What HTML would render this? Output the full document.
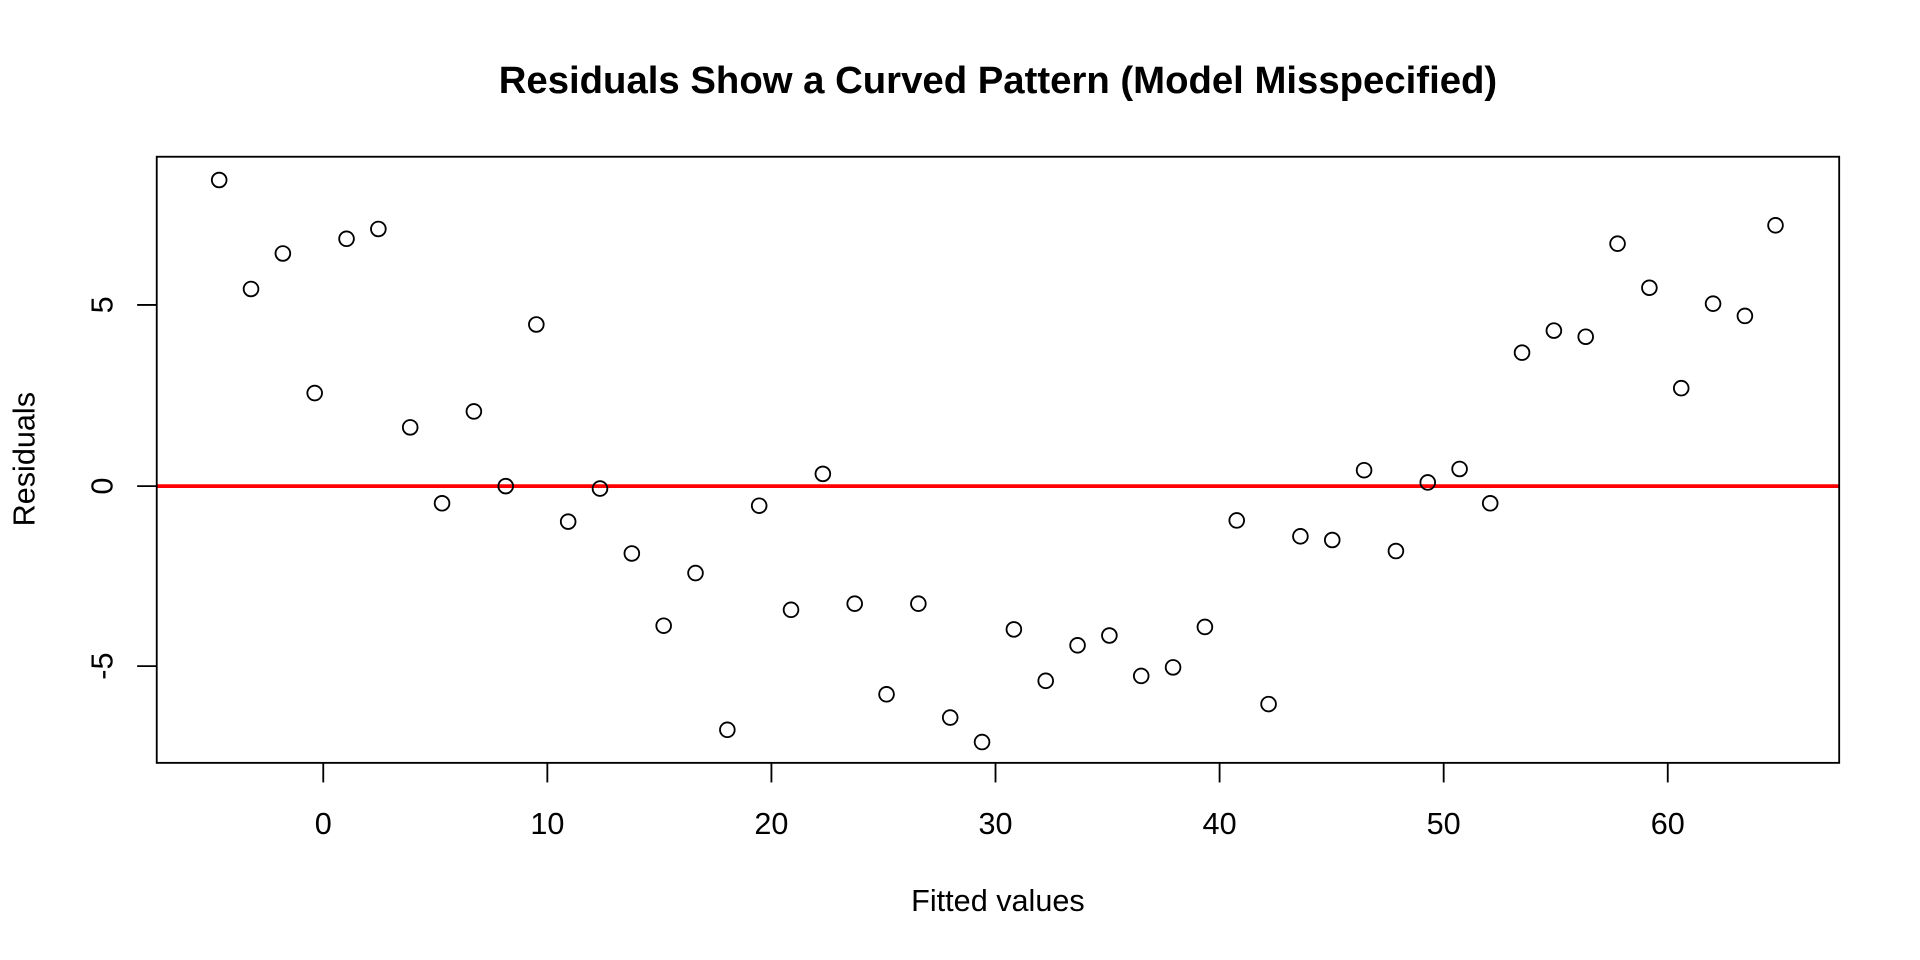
<!DOCTYPE html>
<html><head><meta charset="utf-8"><style>html,body{margin:0;padding:0;background:#fff}svg{display:block}</style></head>
<body>
<svg width="1920" height="960" viewBox="0 0 1568 784" xmlns="http://www.w3.org/2000/svg" font-family="Liberation Sans, Arial, sans-serif">
<rect width="1568" height="784" fill="#fff"/>
<text x="815" y="76" text-anchor="middle" font-size="31.3" font-weight="bold">Residuals Show a Curved Pattern (Model Misspecified)</text>
<line x1="128" y1="397" x2="1502" y2="397" stroke="#ff0000" stroke-width="3"/>
<rect x="128" y="128" width="1374" height="495" fill="none" stroke="#000" stroke-width="1.5"/>
<g stroke="#000" stroke-width="1.5">
<line x1="264" y1="623" x2="264" y2="639"/><line x1="447" y1="623" x2="447" y2="639"/><line x1="630" y1="623" x2="630" y2="639"/><line x1="813" y1="623" x2="813" y2="639"/><line x1="996" y1="623" x2="996" y2="639"/><line x1="1179" y1="623" x2="1179" y2="639"/><line x1="1362" y1="623" x2="1362" y2="639"/>
<line x1="112" y1="249" x2="128" y2="249"/><line x1="112" y1="397" x2="128" y2="397"/><line x1="112" y1="544" x2="128" y2="544"/>
</g>
<g font-size="25" text-anchor="middle">
<text x="264" y="681">0</text><text x="447" y="681">10</text><text x="630" y="681">20</text><text x="813" y="681">30</text><text x="996" y="681">40</text><text x="1179" y="681">50</text><text x="1362" y="681">60</text>
<text transform="translate(92,249) rotate(-90)">5</text>
<text transform="translate(92,397) rotate(-90)">0</text>
<text transform="translate(92,544) rotate(-90)">-5</text>
<text x="815" y="744">Fitted values</text>
<text transform="translate(28,375) rotate(-90)">Residuals</text>
</g>
<g fill="none" stroke="#000" stroke-width="1.5">
<circle cx="179" cy="147" r="6"/><circle cx="205" cy="236" r="6"/><circle cx="231" cy="207" r="6"/><circle cx="257" cy="321" r="6"/><circle cx="283" cy="195" r="6"/><circle cx="309" cy="187" r="6"/><circle cx="335" cy="349" r="6"/><circle cx="361" cy="411" r="6"/><circle cx="387" cy="336" r="6"/><circle cx="413" cy="397" r="6"/>
<circle cx="438" cy="265" r="6"/><circle cx="464" cy="426" r="6"/><circle cx="490" cy="399" r="6"/><circle cx="516" cy="452" r="6"/><circle cx="542" cy="511" r="6"/><circle cx="568" cy="468" r="6"/><circle cx="594" cy="596" r="6"/><circle cx="620" cy="413" r="6"/><circle cx="646" cy="498" r="6"/><circle cx="672" cy="387" r="6"/>
<circle cx="698" cy="493" r="6"/><circle cx="724" cy="567" r="6"/><circle cx="750" cy="493" r="6"/><circle cx="776" cy="586" r="6"/><circle cx="802" cy="606" r="6"/><circle cx="828" cy="514" r="6"/><circle cx="854" cy="556" r="6"/><circle cx="880" cy="527" r="6"/><circle cx="906" cy="519" r="6"/><circle cx="932" cy="552" r="6"/>
<circle cx="958" cy="545" r="6"/><circle cx="984" cy="512" r="6"/><circle cx="1010" cy="425" r="6"/><circle cx="1036" cy="575" r="6"/><circle cx="1062" cy="438" r="6"/><circle cx="1088" cy="441" r="6"/><circle cx="1114" cy="384" r="6"/><circle cx="1140" cy="450" r="6"/><circle cx="1166" cy="394" r="6"/><circle cx="1192" cy="383" r="6"/>
<circle cx="1217" cy="411" r="6"/><circle cx="1243" cy="288" r="6"/><circle cx="1269" cy="270" r="6"/><circle cx="1295" cy="275" r="6"/><circle cx="1321" cy="199" r="6"/><circle cx="1347" cy="235" r="6"/><circle cx="1373" cy="317" r="6"/><circle cx="1399" cy="248" r="6"/><circle cx="1425" cy="258" r="6"/><circle cx="1450" cy="184" r="6"/>
</g>
</svg>
</body></html>
